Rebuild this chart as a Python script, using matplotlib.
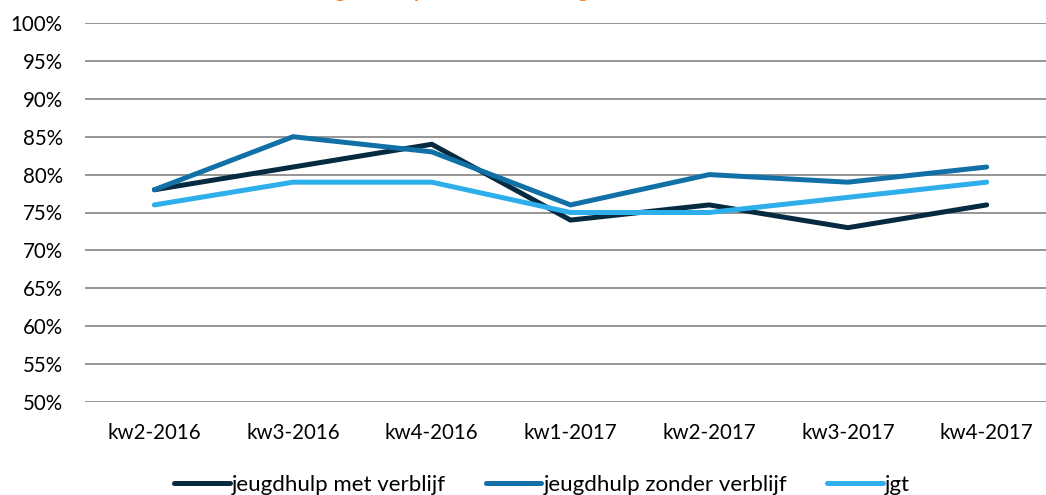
import matplotlib
matplotlib.use("Agg")
import matplotlib.pyplot as plt
from matplotlib.ticker import FuncFormatter

categories = ["kw2-2016", "kw3-2016", "kw4-2016", "kw1-2017", "kw2-2017", "kw3-2017", "kw4-2017"]
met_verblijf = [78, 81, 84, 74, 76, 73, 76]
zonder_verblijf = [78, 85, 83, 76, 80, 79, 81]
jgt = [76, 79, 79, 75, 75, 77, 79]
series_names = ["jeugdhulp met verblijf", "jeugdhulp zonder verblijf", "jgt"]
title = "Doelrealisatie volgens het plan na de afsluiting"

colors = ["#062a40", "#1170a5", "#2eaeea"]

plt.rcParams['font.family'] = ['Lato', 'DejaVu Sans']
W, H = 1046, 495
fig = plt.figure(figsize=(W / 100, H / 100), dpi=100)
ax = fig.add_axes([85 / W, (H - 402) / H, (1056 - 85) / W, (402 - 23) / H])

x = list(range(len(categories)))
handles = []
for vals, c, name in zip([met_verblijf, zonder_verblijf, jgt], colors, series_names):
    h, = ax.plot(x, vals, color=c, lw=3.6, solid_capstyle='round', solid_joinstyle='miter', label=name, zorder=3)
    handles.append(h)

ax.set_xlim(-0.5, len(categories) - 0.5)
ax.set_ylim(50, 100)
ax.set_yticks(range(50, 101, 5))
ax.yaxis.set_major_formatter(FuncFormatter(lambda v, p: f"{int(v)}%"))
ax.set_xticks(x)
ax.set_xticklabels(categories)
ax.grid(axis='y', color='#8c8c8c', lw=1.3, zorder=0)
ax.set_axisbelow(True)
for s in ax.spines.values():
    s.set_visible(False)
ax.tick_params(axis='both', length=0, labelsize=14.8, colors='#000000')
ax.tick_params(axis='y', pad=16)
ax.tick_params(axis='x', pad=15)

leg = fig.legend(handles=handles, labels=series_names, loc='lower left',
                 bbox_to_anchor=(174 / W, 0.0), ncol=3, frameon=False,
                 fontsize=16, handlelength=2.5, handletextpad=0.1,
                 columnspacing=1.8, borderpad=0.0, borderaxespad=0.0)

# title, mostly above the visible area (as in the reference)
fig.canvas.draw()
r = fig.canvas.get_renderer()
tmp = fig.text(0, 0, "Doelrealisatie vol", fontsize=14, fontweight='bold')
wpre = tmp.get_window_extent(r).width
tmp.remove()
fig.text((335 - wpre) / W, (H + 2) / H, title, fontsize=14, fontweight='bold',
         color='#f47d20', ha='left', va='baseline')

fig.savefig("out.png", dpi=100)
